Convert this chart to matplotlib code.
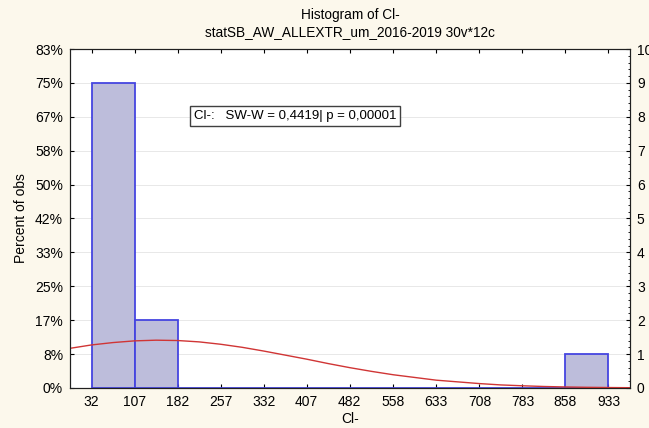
import matplotlib
matplotlib.use("Agg")
import matplotlib.pyplot as plt
from matplotlib.ticker import AutoMinorLocator

plt.rcParams['font.family'] = ['Liberation Sans', 'DejaVu Sans']

# data
bin_edges = [32, 107, 182, 257, 332, 407, 482, 558, 633, 708, 783, 858, 933]
counts = [9, 2, 0, 0, 0, 0, 0, 0, 0, 0, 0, 1]
n_obs = 12
pct_labels = ["0%", "8%", "17%", "25%", "33%", "42%", "50%", "58%", "67%", "75%", "83%"]

# normal fit curve (in counts)
curve_x = [-5.5, 32, 69.5, 107, 144.5, 182, 219.5, 257, 294.5, 332, 369.5, 407,
           444.5, 482, 520, 558, 595.5, 633, 670.5, 708, 745.5, 783, 820.5,
           858, 895.5, 933, 970.5]
curve_y = [1.17, 1.27, 1.34, 1.39, 1.41, 1.40, 1.36, 1.29, 1.20, 1.09, 0.97, 0.85,
           0.72, 0.60, 0.49, 0.39, 0.31, 0.23, 0.18, 0.13, 0.09, 0.065, 0.044,
           0.03, 0.02, 0.013, 0.008]

bg = '#fcf8ec'
fig = plt.figure(figsize=(6.49, 4.28), dpi=100, facecolor=bg)
ax = fig.add_axes([0.1079, 0.0935, 0.8628, 0.792])
ax.set_facecolor('white')

lefts = bin_edges[:-1]
widths = [bin_edges[i + 1] - bin_edges[i] for i in range(len(lefts))]
ax.bar(lefts, counts, width=widths, align='edge', color='#bdbddb',
       edgecolor='#4545e0', linewidth=1.3, zorder=2)
ax.plot(curve_x, curve_y, color='#d03535', lw=1.0, zorder=3)

ax.set_xlim(-5.5, 970.5)
ax.set_ylim(0, 10)
ax.set_xticks(bin_edges)
ax.set_xticklabels([str(e) for e in bin_edges])
ax.set_yticks(range(11))
ax.set_yticklabels(pct_labels)
ax.yaxis.grid(True, color='#e4e4e4', lw=0.6, zorder=0)
ax.tick_params(direction='in', labelsize=10, length=3, top=True, pad=5)

ax2 = ax.twinx()
ax2.set_ylim(0, 10)
ax2.set_yticks(range(11))
ax2.yaxis.set_minor_locator(AutoMinorLocator(5))
ax2.tick_params(direction='in', labelsize=10, length=3, pad=5)
ax2.tick_params(which='minor', direction='in', length=1.5)

for a in (ax, ax2):
    for s in a.spines.values():
        s.set_color('#202020')
        s.set_linewidth(0.8)

ax.set_ylabel("Percent of obs", fontsize=10, labelpad=5)
ax.set_xlabel("Cl-", fontsize=10, labelpad=2)
ax.set_title("Histogram of Cl-\nstatSB_AW_ALLEXTR_um_2016-2019 30v*12c",
             fontsize=9.8, pad=9, linespacing=1.35)

ax.text(0.402, 0.802, "Cl-:   SW-W = 0,4419| p = 0,00001", transform=ax.transAxes,
        ha='center', va='center', fontsize=9.5,
        bbox=dict(boxstyle='square,pad=0.3', facecolor='white', edgecolor='#404040', lw=1))

fig.savefig("out.png", dpi=100, facecolor=bg)
